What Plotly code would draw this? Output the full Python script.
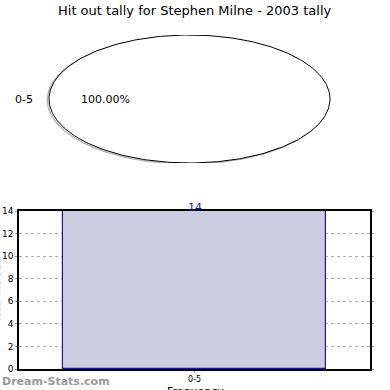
import numpy as np
import plotly.graph_objects as go

title = "Hit out tally for Stephen Milne - 2003 tally"
categories = ["0-5"]
counts = [14]
y_ticks = [0, 2, 4, 6, 8, 10, 12, 14]

W = H = 390
fig = go.Figure()

# ---- pie (drawn as ellipse wedges from the data) ----
total = sum(counts)
fracs = [c / total for c in counts]
start = 0.0
for cat, f in zip(categories, fracs):
    a0, a1 = start, start + f * 2 * np.pi
    t = np.linspace(a0, a1, 361)
    if f < 1:
        xs = np.concatenate([[0], np.cos(t), [0]])
        ys = np.concatenate([[0], np.sin(t), [0]])
    else:
        xs, ys = np.cos(t), np.sin(t)
    # shadow
    fig.add_trace(go.Scatter(x=xs - 0.012, y=ys - 0.015, mode="lines",
                             line=dict(color="rgba(150,150,150,0.7)", width=1.5),
                             xaxis="x2", yaxis="y2", hoverinfo="skip", showlegend=False))
    fig.add_trace(go.Scatter(x=xs, y=ys, mode="lines", fill="toself", fillcolor="white",
                             line=dict(color="black", width=1),
                             xaxis="x2", yaxis="y2", hoverinfo="skip", showlegend=False))
    mid = np.pi if f >= 1 else (a0 + a1) / 2
    lx, ly = 1.1 * np.cos(mid), 1.1 * np.sin(mid)
    fig.add_annotation(x=lx, y=ly, xref="x2", yref="y2", text=cat, showarrow=False,
                       xanchor="right" if lx < 0 else "left", yanchor="middle",
                       font=dict(family="DejaVu Sans", size=11, color="black"))
    px_, py_ = 0.6 * np.cos(mid), 0.6 * np.sin(mid)
    fig.add_annotation(x=px_, y=py_, xref="x2", yref="y2", text=f"{f*100:.2f}%",
                       showarrow=False, xanchor="center", yanchor="middle",
                       font=dict(family="DejaVu Sans", size=11, color="black"))
    start = a1

# ---- bar chart ----
fig.add_trace(go.Bar(x=categories, y=counts, width=0.752,
                     marker=dict(color="#ccccE0", line=dict(color="#1a1a8c", width=1.2)),
                     showlegend=False, hoverinfo="skip"))
for c, v in zip(categories, counts):
    fig.add_annotation(x=c, y=v, xref="x", yref="y", text=str(v), showarrow=False,
                       xanchor="center", yanchor="middle", yshift=4,
                       font=dict(family="DejaVu Sans", size=11, color="#1a1a8c"))

rx_px = 140.5
cx_px = 189.5
R = 1.2
fig.update_layout(
    width=W, height=H,
    margin=dict(l=0, r=0, t=0, b=0, autoexpand=False),
    paper_bgcolor="white", plot_bgcolor="white",
    showlegend=False,
    xaxis=dict(domain=[19 / W, 370 / W], range=[-0.5, 0.5], type="category",
               showline=True, linecolor="black", linewidth=1.5, mirror=True,
               showgrid=True, gridcolor="#b0b0b0", griddash="dot", gridwidth=1,
               ticks="outside", ticklen=2, tickcolor="#999", automargin=False,
               tickfont=dict(family="DejaVu Sans", size=8, color="black"),
               zeroline=False),
    yaxis=dict(domain=[1 - 369 / H, 1 - 211 / H], range=[0, 14], tickvals=y_ticks,
               showline=True, linecolor="black", linewidth=1.5, mirror="ticks",
               showgrid=True, gridcolor="#b0b0b0", griddash="dot", gridwidth=1,
               ticks="outside", ticklen=2, tickcolor="#999", automargin=False,
               tickfont=dict(family="DejaVu Sans", size=9, color="black"),
               zeroline=False),
    xaxis2=dict(domain=[(cx_px - R * rx_px) / W, (cx_px + R * rx_px) / W], range=[-R, R],
                visible=False, anchor="y2"),
    yaxis2=dict(domain=[1 - 163 / H, 1 - 35 / H], range=[-1.0, 1.0], visible=False, anchor="x2"),
    bargap=0,
)

# title
fig.add_annotation(x=0.5, y=1 - 10 / H, xref="paper", yref="paper", text=title,
                   showarrow=False, xanchor="center", yanchor="middle",
                   font=dict(family="DejaVu Sans", size=13, color="black"))
# x axis title (cut at bottom edge in original)
fig.add_annotation(x=195 / W, y=1 - 383 / H, xref="paper", yref="paper", text="Frequency",
                   showarrow=False, xanchor="center", yanchor="top",
                   font=dict(family="DejaVu Sans", size=11, color="black"))
# y axis title (cropped at left edge in original)
fig.add_annotation(x=3 / W, y=1 - 290 / H, xref="paper", yref="paper", text="Total Hit Outs",
                   textangle=-90, showarrow=False, xanchor="right", yanchor="middle",
                   font=dict(family="DejaVu Sans", size=10, color="black"))
# watermark
fig.add_annotation(x=0, y=1 - 381 / H, xref="paper", yref="paper", text="<b>Dream-Stats.com</b>",
                   showarrow=False, xanchor="left", yanchor="middle",
                   font=dict(family="DejaVu Sans", size=11, color="#999999"))

fig.write_html("out.html")
